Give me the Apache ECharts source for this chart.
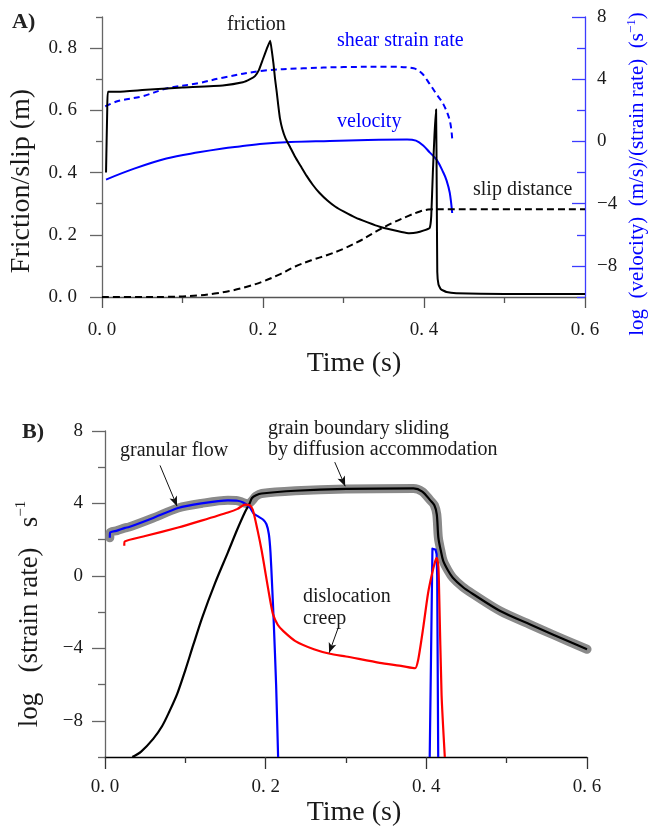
<!DOCTYPE html>
<html>
<head>
<meta charset="utf-8">
<script src="https://cdn.jsdelivr.net/npm/echarts@6.0.0/dist/echarts.min.js"></script>
<style>
html, body { margin: 0; padding: 0; background: #fff; }
#chart { width: 648px; height: 829px; }
</style>
</head>
<body>
<div id="chart"></div>
<script>
// Panel A - friction, slip (left axis) and log velocity / strain rate (right axis)
var friction = [[0.005,0.40],[0.0065,0.60],[0.0075,0.66],[0.02,0.66],[0.05,0.665],[0.1,0.673],[0.15,0.68],
  [0.175,0.69],[0.184,0.70],[0.19,0.71],[0.195,0.73],[0.2,0.765],[0.205,0.80],[0.209,0.824],[0.211,0.79],
  [0.213,0.75],[0.215,0.70],[0.217,0.66],[0.219,0.615],[0.221,0.575],[0.224,0.54],[0.228,0.51],[0.234,0.48],
  [0.24,0.45],[0.247,0.42],[0.254,0.39],[0.262,0.36],[0.27,0.335],[0.28,0.31],[0.29,0.29],[0.3,0.275],
  [0.315,0.255],[0.33,0.24],[0.345,0.226],[0.36,0.216],[0.372,0.209],[0.382,0.205],[0.391,0.207],[0.4,0.214],
  [0.407,0.222],[0.409,0.26],[0.411,0.40],[0.413,0.52],[0.415,0.603],[0.4158,0.35],[0.4165,0.08],
  [0.418,0.04],[0.421,0.025],[0.428,0.016],[0.44,0.012],[0.5,0.01],[0.6,0.01]];
var slip = [[0,0],[0.05,0],[0.08,0.0005],[0.1,0.002],[0.12,0.005],[0.14,0.011],[0.16,0.02],[0.18,0.033],
  [0.2,0.05],[0.22,0.072],[0.24,0.098],[0.26,0.118],[0.28,0.135],[0.3,0.155],[0.32,0.18],[0.34,0.21],
  [0.36,0.237],[0.38,0.26],[0.395,0.275],[0.405,0.281],[0.415,0.282],[0.6,0.282]];
var shearRate = [[0.004,2.25],[0.02,2.6],[0.05,2.9],[0.08,3.4],[0.12,3.75],[0.15,4.1],[0.2,4.55],[0.25,4.7],
  [0.3,4.78],[0.358,4.8],[0.387,4.7],[0.397,4.4],[0.407,3.7],[0.416,3.0],[0.424,2.4],[0.432,1.35],[0.435,0.2]];
var velocity = [[0.005,-2.45],[0.04,-1.75],[0.08,-1.1],[0.12,-0.7],[0.15,-0.45],[0.171,-0.32],[0.2,-0.15],
  [0.234,-0.04],[0.283,0.03],[0.33,0.1],[0.379,0.13],[0.39,0.05],[0.399,-0.26],[0.407,-0.7],[0.416,-1.2],
  [0.424,-2.0],[0.428,-2.5],[0.432,-3.3],[0.435,-4.6]];

// Panel B - log strain rate of each mechanism
var totalRate = [[0.006,2.1],[0.0065,2.4],[0.015,2.5],[0.025,2.65],[0.03,2.7],[0.06,3.2],[0.091,3.75],[0.12,4.0],
  [0.153,4.17],[0.165,4.15],[0.172,4.05],[0.178,3.98],[0.183,4.15],[0.188,4.4],[0.195,4.55],[0.237,4.7],
  [0.3,4.8],[0.384,4.83],[0.395,4.65],[0.405,4.17],[0.41,3.9],[0.413,3.4],[0.415,2.1],[0.418,1.4],[0.421,0.83],
  [0.427,0.3],[0.433,-0.1],[0.445,-0.6],[0.458,-1.0],[0.492,-1.94],[0.53,-2.7],[0.558,-3.25],[0.6,-4.05]];
var granularEarly = [[0.006,2.1],[0.0065,2.4],[0.015,2.5],[0.025,2.65],[0.03,2.7],[0.06,3.2],[0.091,3.75],
  [0.12,4.0],[0.153,4.17],[0.165,4.15],[0.172,4.05],[0.18,3.8],[0.185,3.45],[0.19,3.3],[0.197,3.1],
  [0.201,2.85],[0.204,2.3],[0.206,1.3],[0.208,-0.5],[0.21,-2.5],[0.213,-6],[0.2155,-10]];
var granularLate = [[0.4042,-10],[0.4076,1.5],[0.4095,1.56],[0.4115,1.45],[0.4128,1.2],[0.4135,0],[0.4148,-10]];
var dislocation = [[0.024,1.66],[0.0245,1.9],[0.05,2.2],[0.091,2.67],[0.12,3.05],[0.153,3.5],[0.165,3.7],
  [0.174,3.94],[0.18,3.9],[0.184,3.65],[0.19,2.5],[0.195,1.4],[0.2,0.1],[0.205,-1.2],[0.209,-2.1],[0.215,-2.7],
  [0.222,-3.05],[0.237,-3.6],[0.26,-4.05],[0.28,-4.3],[0.3,-4.45],[0.342,-4.8],[0.37,-4.98],[0.386,-5.1],
  [0.39,-4.6],[0.396,-2.9],[0.402,-1.0],[0.407,0.1],[0.411,0.8],[0.413,1.0],[0.415,0.5],[0.416,-1.0],
  [0.419,-6.6],[0.423,-10]];
var gbs = [[0.034,-10],[0.045,-9.7],[0.06,-9.0],[0.071,-8.3],[0.08,-7.5],[0.09,-6.5],[0.1,-5.2],[0.11,-3.8],
  [0.121,-2.3],[0.137,-0.4],[0.153,1.3],[0.165,2.6],[0.174,3.5],[0.18,4.0],[0.183,4.3],[0.188,4.45],
  [0.195,4.55],[0.237,4.7],[0.3,4.8],[0.384,4.83],[0.395,4.65],[0.405,4.17],[0.41,3.9],[0.413,3.4],
  [0.415,2.1],[0.418,1.4],[0.421,0.83],[0.427,0.3],[0.433,-0.1],[0.445,-0.6],[0.458,-1.0],[0.492,-1.94],
  [0.53,-2.7],[0.558,-3.25],[0.6,-4.05]];

// ticks / labels
var timeMajor = [0, 0.2, 0.4, 0.6];
var timeMinor = [0.1, 0.3, 0.5];
var fricMajor = [0, 0.2, 0.4, 0.6, 0.8];
var fricMinor = [0.1, 0.3, 0.5, 0.7, 0.9];
var logMajor = [-8, -4, 0, 4, 8];
var logMinor = [-10, -6, -2, 2, 6];

var FONT = 'Liberation Serif';
var BLUE = '#0000ff';
var INK = '#1a1a1a';

var chart = echarts.init(document.getElementById('chart'));

function decimalLabel(v) { return v.toFixed(1).replace('.', '. '); }
function logLabel(v) { return String(v).replace('-', '\u2212'); }

// helper for an axis that only draws extra (short) ticks
function minorAxis(extra) {
  return Object.assign({
    type: 'value', axisLine: { show: false, onZero: false }, axisLabel: { show: false }, splitLine: { show: false }
  }, extra);
}

var labelStyle = { fontFamily: FONT, fontSize: 19, color: INK };

function curve(name, xi, yi, data, color, width, dash, smooth) {
  return {
    name: name, type: 'line', xAxisIndex: xi, yAxisIndex: yi, data: data,
    showSymbol: false, smooth: smooth,
    lineStyle: { color: color, width: width, type: dash || 'solid', join: 'round' }
  };
}

var option = {
  animation: false,
  grid: [
    { left: 102, top: 17, width: 483, height: 280 },
    { left: 105, top: 431, width: 482, height: 326 }
  ],
  xAxis: [
    { type: 'value', gridIndex: 0, position: 'bottom', min: 0, max: 0.6,
      axisLine: { onZero: false, lineStyle: { color: '#555', width: 1.3 } },
      axisTick: { customValues: timeMajor, length: 11, lineStyle: { color: '#555', width: 1.3 } },
      axisLabel: Object.assign({ customValues: timeMajor, margin: 24, formatter: decimalLabel }, labelStyle),
      splitLine: { show: false } },
    minorAxis({ gridIndex: 0, position: 'bottom', min: 0, max: 0.6,
      axisTick: { customValues: timeMinor, length: 6, lineStyle: { color: '#555', width: 1.3 } } }),
    { type: 'value', gridIndex: 1, position: 'bottom', min: 0, max: 0.6,
      axisLine: { onZero: false, lineStyle: { color: '#000', width: 1.3 } },
      axisTick: { customValues: timeMajor, length: 12, lineStyle: { color: '#333', width: 1.3 } },
      axisLabel: Object.assign({ customValues: timeMajor, margin: 21, formatter: decimalLabel }, labelStyle),
      splitLine: { show: false } },
    minorAxis({ gridIndex: 1, position: 'bottom', min: 0, max: 0.6,
      axisTick: { customValues: timeMinor, length: 6, lineStyle: { color: '#333', width: 1.3 } } })
  ],
  yAxis: [
    { type: 'value', gridIndex: 0, position: 'left', min: 0, max: 0.9,
      axisLine: { onZero: false, lineStyle: { color: '#666', width: 1.3 } },
      axisTick: { customValues: fricMajor, length: 12, lineStyle: { color: '#666', width: 1.3 } },
      axisLabel: Object.assign({ customValues: fricMajor, margin: 25, formatter: decimalLabel }, labelStyle),
      splitLine: { show: false } },
    minorAxis({ gridIndex: 0, position: 'left', min: 0, max: 0.9,
      axisTick: { customValues: fricMinor, length: 6, lineStyle: { color: '#666', width: 1.3 } } }),
    { type: 'value', gridIndex: 0, position: 'right', min: -10, max: 8,
      axisLine: { onZero: false, lineStyle: { color: '#3c3cff', width: 1.3 } },
      axisTick: { inside: true, customValues: logMajor, length: 13, lineStyle: { color: '#3c3cff', width: 1.3 } },
      axisLabel: Object.assign({ customValues: logMajor, margin: 12, formatter: logLabel }, labelStyle),
      splitLine: { show: false } },
    minorAxis({ gridIndex: 0, position: 'right', min: -10, max: 8,
      axisTick: { inside: true, customValues: logMinor, length: 8, lineStyle: { color: '#3c3cff', width: 1.3 } } }),
    { type: 'value', gridIndex: 1, position: 'left', min: -10, max: 8,
      axisLine: { onZero: false, lineStyle: { color: '#666', width: 1.3 } },
      axisTick: { customValues: logMajor, length: 13, lineStyle: { color: '#666', width: 1.3 } },
      axisLabel: Object.assign({ customValues: logMajor, margin: 22, formatter: logLabel }, labelStyle),
      splitLine: { show: false } },
    minorAxis({ gridIndex: 1, position: 'left', min: -10, max: 8,
      axisTick: { customValues: logMinor, length: 7, lineStyle: { color: '#666', width: 1.3 } } })
  ],
  series: [
    // panel A
    curve('shear strain rate', 0, 2, shearRate, BLUE, 2, [6, 4], 0.35),
    curve('velocity', 0, 2, velocity, BLUE, 2, null, 0.35),
    curve('slip distance', 0, 0, slip, '#000', 2, [7, 4], 0.35),
    curve('friction', 0, 0, friction, '#000', 2, null, 0.12),
    // panel B
    { name: 'total', type: 'line', xAxisIndex: 2, yAxisIndex: 4, data: totalRate,
      showSymbol: false, smooth: 0.3,
      lineStyle: { color: '#8a8a8a', width: 9, cap: 'round', join: 'round' } },
    curve('grain boundary sliding', 2, 4, gbs, '#000', 2.2, null, 0.3),
    curve('granular flow', 2, 4, granularEarly, BLUE, 2.2, null, 0.2),
    curve('granular flow 2', 2, 4, granularLate, BLUE, 2.2, null, false),
    Object.assign(curve('dislocation creep', 2, 4, dislocation, '#ff0000', 2.2, null, 0.2), {
      markLine: {
        silent: true, symbol: ['none', 'arrow'], symbolSize: [6, 10], animation: false,
        label: { show: false },
        lineStyle: { color: '#111', width: 1, type: 'solid' },
        data: [
          [{ coord: [0.0685, 6.1] }, { coord: [0.0897, 3.85] }],
          [{ coord: [0.286, 6.28] }, { coord: [0.299, 4.95] }],
          [{ coord: [0.29, -2.9] }, { coord: [0.279, -4.25] }]
        ]
      }
    })
  ],
  graphic: [
    { type: 'text', x: 12, y: 22, style: { text: 'A)', font: 'bold 22px ' + FONT, fill: '#222', textVerticalAlign: 'middle' } },
    { type: 'text', x: 22, y: 432, style: { text: 'B)', font: 'bold 22px ' + FONT, fill: '#222', textVerticalAlign: 'middle' } },
    { type: 'text', x: 227, y: 25, style: { text: 'friction', font: '20px ' + FONT, fill: INK, textVerticalAlign: 'middle' } },
    { type: 'text', x: 337, y: 41, style: { text: 'shear strain rate', font: '20px ' + FONT, fill: BLUE, textVerticalAlign: 'middle' } },
    { type: 'text', x: 337, y: 122, style: { text: 'velocity', font: '20px ' + FONT, fill: BLUE, textVerticalAlign: 'middle' } },
    { type: 'text', x: 473, y: 190, style: { text: 'slip distance', font: '20px ' + FONT, fill: INK, textVerticalAlign: 'middle' } },
    { type: 'text', x: 354, y: 364, style: { text: 'Time (s)', font: '28px ' + FONT, fill: INK, textAlign: 'center', textVerticalAlign: 'middle' } },
    { type: 'text', x: 354, y: 813, style: { text: 'Time (s)', font: '28px ' + FONT, fill: INK, textAlign: 'center', textVerticalAlign: 'middle' } },
    { type: 'text', x: 22, y: 181, rotation: Math.PI / 2,
      style: { text: 'Friction/slip (m)', font: '28px ' + FONT, fill: INK, textAlign: 'center', textVerticalAlign: 'middle' } },
    { type: 'text', x: 637, y: 174, rotation: Math.PI / 2,
      style: { text: '{n|log\u2002(velocity)\u2002(m/s)/(strain rate)\u2002(s}{s|\u22121}{n|)}', fill: BLUE, textAlign: 'center', textVerticalAlign: 'middle',
        rich: { n: { fontFamily: FONT, fontSize: 21, fill: BLUE, lineHeight: 24 },
                s: { fontFamily: FONT, fontSize: 13, fill: BLUE, lineHeight: 24, verticalAlign: 'top' } } } },
    { type: 'text', x: 30, y: 614, rotation: Math.PI / 2,
      style: { text: '{n|log\u2002\u2005(strain rate)\u2002\u2005s}{s|\u22121}', fill: INK, textAlign: 'center', textVerticalAlign: 'middle',
        rich: { n: { fontFamily: FONT, fontSize: 27, fill: INK, lineHeight: 32 },
                s: { fontFamily: FONT, fontSize: 15, fill: INK, lineHeight: 32, verticalAlign: 'top' } } } },
    { type: 'text', x: 120, y: 451, style: { text: 'granular flow', font: '20px ' + FONT, fill: INK, textVerticalAlign: 'middle' } },
    { type: 'text', x: 268, y: 429, style: { text: 'grain boundary sliding', font: '20px ' + FONT, fill: INK, textVerticalAlign: 'middle' } },
    { type: 'text', x: 268, y: 450, style: { text: 'by diffusion accommodation', font: '20px ' + FONT, fill: INK, textVerticalAlign: 'middle' } },
    { type: 'text', x: 303, y: 597, style: { text: 'dislocation', font: '20px ' + FONT, fill: INK, textVerticalAlign: 'middle' } },
    { type: 'text', x: 303, y: 619, style: { text: 'creep', font: '20px ' + FONT, fill: INK, textVerticalAlign: 'middle' } }
  ]
};

chart.setOption(option);
</script>
</body>
</html>
